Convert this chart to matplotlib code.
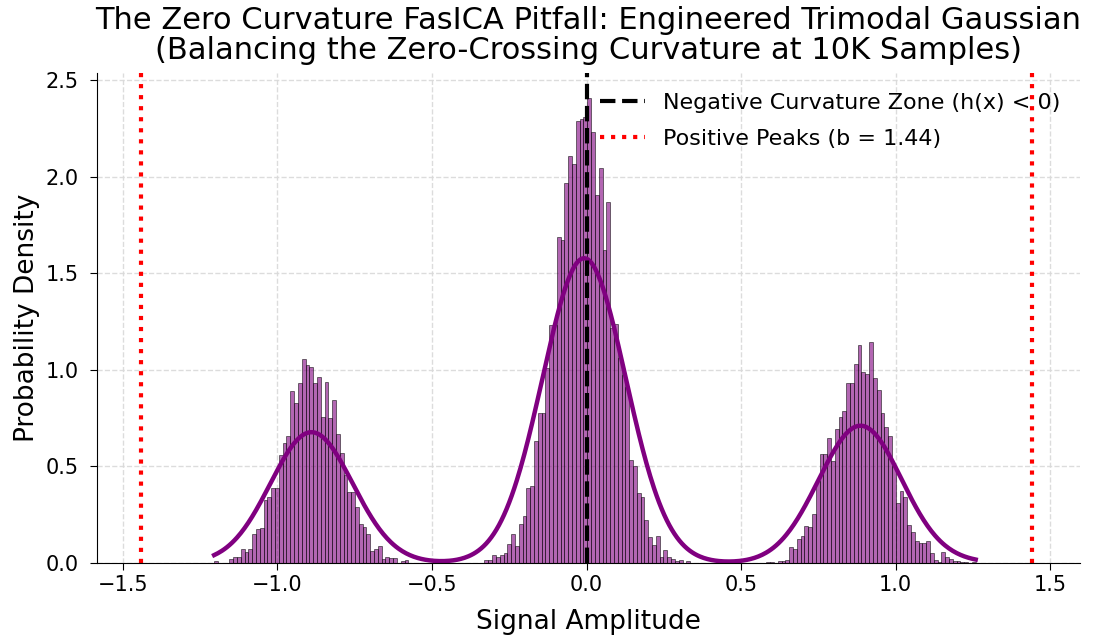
import numpy as np
import matplotlib
matplotlib.use("Agg")
import matplotlib.pyplot as plt

# ---------------- data ----------------
N_SAMPLES = 10000
bin_lo = -1.205
bin_hi = 1.259
peak_b = 1.44

left_mode = [0.01, 0, 0, 0, 0.02, 0.03, 0.03, 0.072, 0.055, 0.072,
             0.15, 0.175, 0.183, 0.325, 0.34, 0.39, 0.39, 0.56, 0.62, 0.66,
             0.89, 0.83, 0.93, 1.054, 1.025, 1.013, 0.93, 0.964, 0.757, 0.938,
             0.749, 0.844, 0.668, 0.571, 0.455, 0.366, 0.366, 0.291, 0.20, 0.185,
             0.148, 0.06, 0.07, 0.09, 0.02, 0.033, 0.025, 0.025, 0, 0.01,
             0.015]
gap_left = [0.0] * 20
center_left = [0.015, 0.015, 0.04, 0.033, 0.04, 0.05, 0.097, 0.148, 0.09, 0.2,
               0.243, 0.39, 0.40, 0.63, 0.775, 0.775, 1.008, 1.232, 1.232, 1.686,
               1.675, 1.97, 2.11, 2.064, 2.29, 2.30, 2.307, 2.41]
center_right = [2.232, 1.908, 2.046, 1.62, 1.867, 1.215, 1.24, 1.06, 0.973, 0.91,
                0.533, 0.5, 0.36, 0.343, 0.223, 0.136, 0.093, 0.14, 0.03, 0.067,
                0.03, 0.019, 0.008, 0.015, 0, 0.01]
gap_right = [0.0] * 20
right_mode = [0.005, 0.005, 0, 0.008, 0.008, 0.015,
              0.081, 0.072, 0.123, 0.141, 0.193, 0.185, 0.252, 0.424, 0.563, 0.563,
              0.645, 0.53, 0.694, 0.757, 0.787, 0.93, 0.93, 1.03, 1.128, 0.99,
              0.98, 1.142, 0.956, 0.895, 0.775, 0.706, 0.657, 0.5, 0.309, 0.374,
              0.343, 0.197, 0.162, 0.114, 0.102, 0.102, 0.115, 0.053, 0.015, 0.005,
              0.055, 0.033, 0.02, 0.012, 0.012, 0.005, 0.005, 0, 0.005]

density = np.array(left_mode + gap_left + center_left + center_right + gap_right + right_mode)
n_bins = len(density)
edges = np.linspace(bin_lo, bin_hi, n_bins + 1)
centers = 0.5 * (edges[:-1] + edges[1:])

# ---------------- figure ----------------
fig = plt.figure(figsize=(10.97, 6.41), dpi=100)
ax = fig.add_axes([0.0884, 0.1217, 0.896, 0.764])

ax.grid(True, linestyle='--', color='#d9d9d9', linewidth=1.0, alpha=0.9)
ax.set_axisbelow(True)

ax.hist(centers, bins=edges, weights=density, color='purple', alpha=0.6,
        edgecolor='black', linewidth=0.6)

# Gaussian KDE (Scott's rule) of the histogram, clipped to data range
w = density / density.sum()
mu = np.sum(w * centers)
sd = np.sqrt(np.sum(w * (centers - mu) ** 2))
bw = sd * N_SAMPLES ** (-1 / 5)
xs = np.linspace(bin_lo, bin_hi, 600)
kde = (w[None, :] * np.exp(-0.5 * ((xs[:, None] - centers[None, :]) / bw) ** 2)).sum(axis=1) / (bw * np.sqrt(2 * np.pi))
ax.plot(xs, kde, color='purple', linewidth=3.2)

ax.axvline(0, color='black', linestyle='--', linewidth=3,
           label='Negative Curvature Zone (h(x) < 0)')
ax.axvline(-peak_b, color='red', linestyle=':', linewidth=3,
           label=f'Positive Peaks (b = {peak_b})')
ax.axvline(peak_b, color='red', linestyle=':', linewidth=3)

ax.set_xlim(-1.584, 1.596)
ax.set_ylim(0, 2.536)
ax.set_xticks([-1.5, -1.0, -0.5, 0.0, 0.5, 1.0, 1.5])
ax.set_yticks([0.0, 0.5, 1.0, 1.5, 2.0, 2.5])
ax.tick_params(labelsize=15, length=5)
ax.tick_params(axis='y', pad=8)

for s in ['top', 'right']:
    ax.spines[s].set_visible(False)

ax.set_xlabel('Signal Amplitude', fontsize=19, labelpad=10)
ax.set_ylabel('Probability Density', fontsize=19)
ax.set_title('The Zero Curvature FasICA Pitfall: Engineered Trimodal Gaussian\n'
             '(Balancing the Zero-Crossing Curvature at 10K Samples)',
             fontsize=22, linespacing=1.05, pad=10)

ax.legend(loc='upper right', fontsize=16, frameon=False, labelspacing=0.7)

fig.savefig('out.png', dpi=100)
